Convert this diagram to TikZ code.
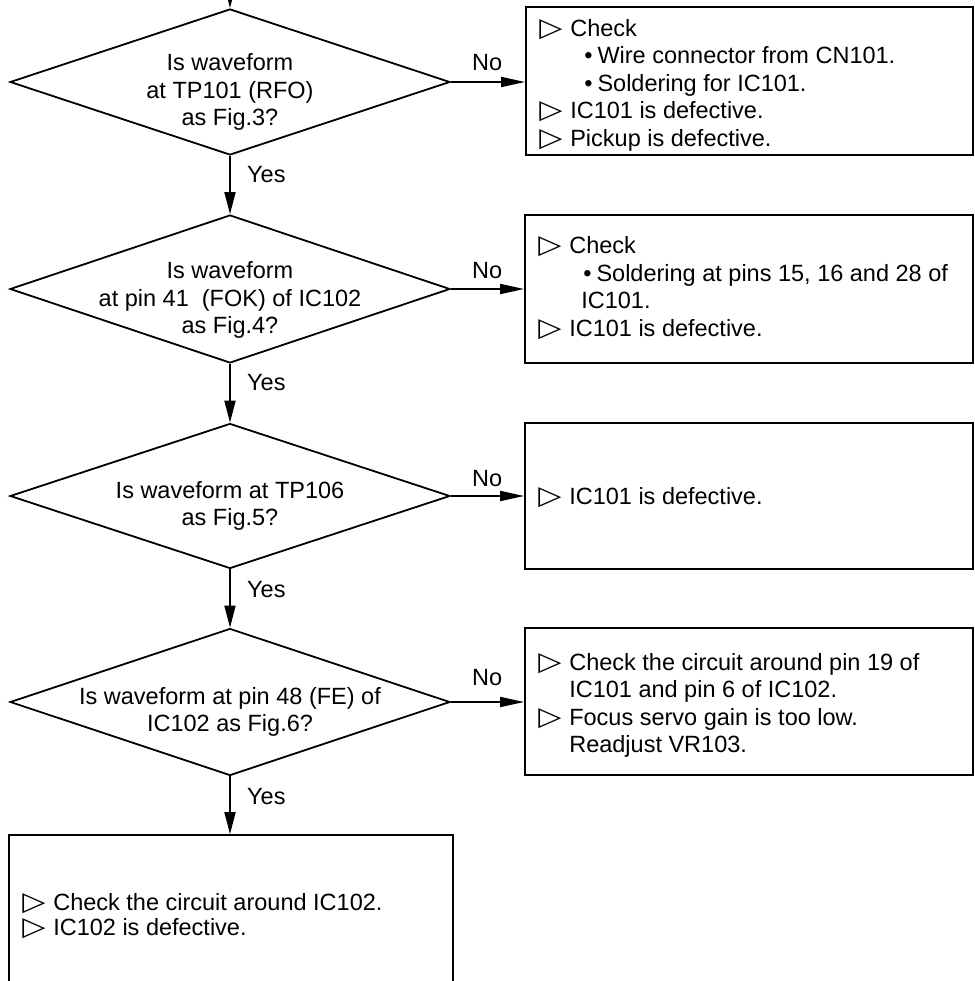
\documentclass[tikz,border=0pt]{standalone}
\usepackage{fontspec}
\usepackage{graphicx}
\setmainfont{Liberation Sans}
\newfontfamily\dejavu{DejaVu Sans}
\usetikzlibrary{shapes.geometric,arrows.meta,calc}
\newcommand\tri{\makebox[31pt][l]{\scalebox{1.28}[1.12]{\dejavu ▷}}}
\newcommand\ind{\hspace*{31pt}}
\newcommand\bul{\hspace*{45pt}•\hspace{5pt}}
\begin{document}
\begin{tikzpicture}[x=1pt,y=-1pt,
  txt/.style={font=\fontsize{23.5pt}{27.5pt}\selectfont, inner sep=0pt},
  decision/.style={draw, diamond, line width=1.8pt, minimum width=440pt, minimum height=146pt, inner sep=0pt},
  box/.style={draw, rectangle, line width=1.8pt, inner sep=0pt},
  qtext/.style={txt, align=center},
  btext/.style={txt, align=left, anchor=west},
  lbl/.style={txt, anchor=west},
  arr/.style={line width=1.8pt, -{Triangle[length=22pt,width=11pt]}},
  harr/.style={line width=1.8pt, -{Triangle[length=24pt,width=10pt]}}]
\useasboundingbox (0,0) rectangle (974,981);
\clip (0,0) rectangle (974,981);
% decisions
\node[decision] (d1) at (230,82) {};
\node[decision, minimum height=148pt] (d2) at (230,289) {};
\node[decision, minimum height=145pt] (d3) at (230,496) {};
\node[decision, minimum height=147pt] (d4) at (230,702) {};
\node[qtext] (t1) at ($(d1.center)+(0,10)$) {Is waveform\\at TP101 (RFO)\\as Fig.3?};
\node[qtext] (t2) at ($(d2.center)+(0,11)$) {Is waveform\\at pin 41 \ (FOK) of IC102\\as Fig.4?};
\node[qtext] (t3) at ($(d3.center)+(0,10)$) {Is waveform at TP106\\as Fig.5?};
\node[qtext] (t4) at ($(d4.center)+(0,10)$) {Is waveform at pin 48 (FE) of\\IC102 as Fig.6?};
% boxes
\node[box, minimum width=447pt, minimum height=148pt] (b1) at (749.5,81) {};
\node[box, minimum width=448pt, minimum height=148pt] (b2) at (749,289) {};
\node[box, minimum width=448pt, minimum height=146pt] (b3) at (749,496) {};
\node[box, minimum width=448pt, minimum height=147pt] (b4) at (749,701.5) {};
\node[box, minimum width=444pt, minimum height=170pt] (b5) at (231,920) {};
\node[btext] (bt1) at ($(b1.west)+(14,4)$) {\tri Check\\\bul Wire connector from CN101.\\\bul Soldering for IC101.\\\tri IC101 is defective.\\\tri Pickup is defective.};
\node[btext] (bt2) at ($(b2.west)+(14,-1)$) {\tri Check\\\bul Soldering at pins 15, 16 and 28 of\\\hspace*{43pt}IC101.\\\tri IC101 is defective.};
\node[btext] (bt3) at ($(b3.west)+(14,2)$) {\tri IC101 is defective.};
\node[btext] (bt4) at ($(b4.west)+(14,4)$) {\tri Check the circuit around pin 19 of\\\ind IC101 and pin 6 of IC102.\\\tri Focus servo gain is too low.\\\ind Readjust VR103.};
\node[btext, font=\fontsize{23.5pt}{25pt}\selectfont] (bt5) at ($(b5.north west)+(14,82)$) {\tri Check the circuit around IC102.\\\tri IC102 is defective.};
% connectors
\coordinate (top) at (230,-20);
\draw[arr] (top) -- (d1.north);
\draw[arr] (d1.south) -- (d2.north);
\draw[arr] (d2.south) -- (d3.north);
\draw[arr] (d3.south) -- (d4.north);
\draw[arr] (d4.south) -- (d4.south |- b5.north);
\draw[harr] (d1.east) -- (d1.east -| b1.west);
\draw[harr] (d2.east) -- (d2.east -| b2.west);
\draw[harr] (d3.east) -- (d3.east -| b3.west);
\draw[harr] (d4.east) -- (d4.east -| b4.west);
% labels
\node[lbl] (y1) at ($(d1.south)+(17,19)$) {Yes};
\node[lbl] (y2) at ($(d2.south)+(17,19)$) {Yes};
\node[lbl] (y3) at ($(d3.south)+(17,20)$) {Yes};
\node[lbl] (y4) at ($(d4.south)+(17,20)$) {Yes};
\node[lbl] (n1) at ($(d1.east)+(21,-19)$) {No};
\node[lbl] (n2) at ($(d2.east)+(21,-18)$) {No};
\node[lbl] (n3) at ($(d3.east)+(21,-17)$) {No};
\node[lbl] (n4) at ($(d4.east)+(21,-24)$) {No};
\end{tikzpicture}
\end{document}
